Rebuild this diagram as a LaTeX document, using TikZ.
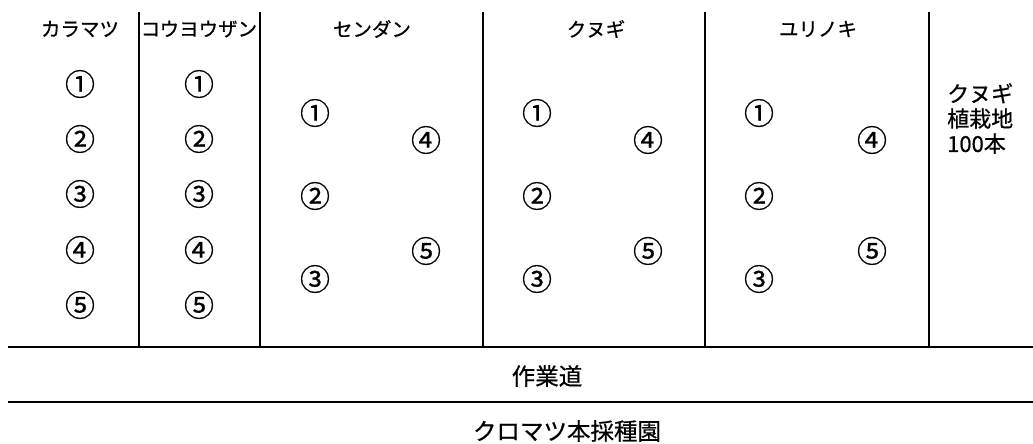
\documentclass[tikz,border=0pt]{standalone}
\usepackage{fontspec}
\setmainfont{Noto Sans CJK JP}[FakeBold=0.5]
\newfontfamily\jpbold{Noto Sans CJK JP}[FakeBold=0.6]
\begin{document}
\begin{tikzpicture}[x=1pt,y=-1pt,
  hdr/.style={font=\jpbold\fontsize{19.5}{20}\selectfont, inner sep=0pt, anchor=center},
  num/.style={font=\jpbold\fontsize{30}{30}\selectfont, inner sep=0pt, anchor=center},
  road/.style={font=\jpbold\fontsize{23.5}{24}\selectfont, inner sep=0pt, anchor=center},
  border/.style={line width=1.6pt, black},
  divider/.style={line width=1.3pt, black}]
\useasboundingbox (0,0) rectangle (1033,444);
% dividers
\foreach \x in {139,260,483,705,929}{
  \draw[divider] (\x,12) -- (\x,347);
}
\draw[border] (8,347) -- (1033,347);
\draw[border] (8,402) -- (1033,402);
% headers
\node[hdr] (h1) at (80,29) {カラマツ};
\node[hdr] (h2) at (199,29) {コウヨウザン};
\node[hdr] (h3) at (372,29) {センダン};
\node[hdr] (h4) at (596,29) {クヌギ};
\node[hdr] (h5) at (818,29) {ユリノキ};
% columns 1,2
\foreach \c/\x in {a/80,b/199}{
  \node[num] (\c1) at (\x,84) {①};
  \node[num] (\c2) at (\x,139) {②};
  \node[num] (\c3) at (\x,194) {③};
  \node[num] (\c4) at (\x,250) {④};
  \node[num] (\c5) at (\x,305) {⑤};
}
% columns 3,4,5
\foreach \c/\xl/\xr in {c/315/426,d/537/648,e/759/872}{
  \node[num] (\c1) at (\xl,113) {①};
  \node[num] (\c2) at (\xl,196) {②};
  \node[num] (\c3) at (\xl,279) {③};
  \node[num] (\c4) at (\xr,140) {④};
  \node[num] (\c5) at (\xr,251) {⑤};
}
% right text
\node[font=\jpbold\fontsize{22}{25}\selectfont, inner sep=0pt, anchor=north west, align=left] (kunugi) at (947,83) {クヌギ\\植栽地\\100本};
% road labels
\node[road] (road) at (547,376) {作業道};
\node[road] (orchard) at (567,431) {クロマツ本採種園};
\end{tikzpicture}
\end{document}
